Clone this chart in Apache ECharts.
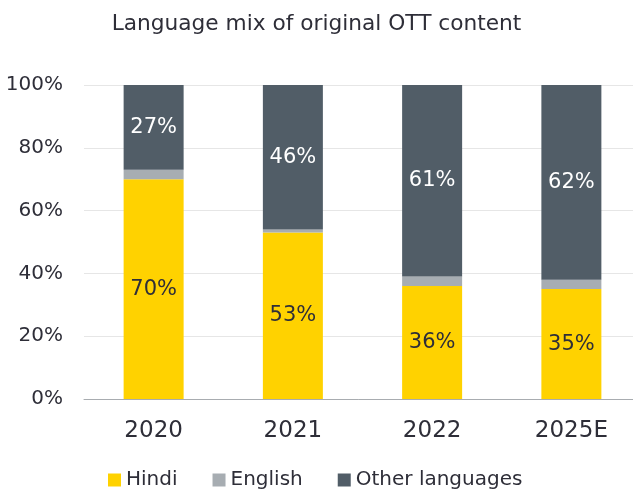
<!DOCTYPE html>
<html>
<head>
<meta charset="utf-8">
<script src="https://cdn.jsdelivr.net/npm/echarts@6/dist/echarts.min.js"></script>
<style>
  html, body { margin: 0; padding: 0; background: #fff; }
  #chart { width: 633px; height: 490px; }
</style>
</head>
<body>
<div id="chart"></div>
<script>
// Share of original OTT content by language (%)
const years = ['2020', '2021', '2022', '2025E'];
const hindi = [70, 53, 36, 35];
const english = [3, 1, 3, 3];
const other = [27, 46, 61, 62];
const yTicks = [0, 20, 40, 60, 80, 100];

const FONT = 'DejaVu Sans';
const INK = '#2e2e38';
const chart = echarts.init(document.getElementById('chart'));

chart.setOption({
  animation: false,
  textStyle: { fontFamily: FONT },
  title: {
    text: 'Language mix of original OTT content',
    left: 'center',
    top: 8,
    textStyle: { fontFamily: FONT, fontSize: 21.7, fontWeight: 'normal', color: INK }
  },
  legend: {
    top: 470,
    left: 108,
    padding: 0,
    itemWidth: 13,
    itemHeight: 13,
    itemGap: 35,
    icon: 'rect',
    textStyle: { fontFamily: FONT, fontSize: 20, color: INK },
    data: ['Hindi', 'English', 'Other languages']
  },
  grid: { left: 84, right: -8, top: 85, bottom: 91, outerBoundsMode: 'none' },
  xAxis: {
    type: 'category',
    data: years,
    axisTick: { show: false },
    axisLine: { lineStyle: { color: '#a8acb0', width: 1 } },
    axisLabel: { fontFamily: FONT, fontSize: 23, color: INK, margin: 21 }
  },
  yAxis: {
    type: 'value',
    min: yTicks[0],
    max: yTicks[yTicks.length - 1],
    interval: 20,
    axisLine: { show: false },
    axisTick: { show: false },
    splitLine: { lineStyle: { color: '#e6e6e6', width: 1 } },
    axisLabel: { fontFamily: FONT, fontSize: 20, color: INK, margin: 21, formatter: '{value}%' }
  },
  series: [
    {
      name: 'Hindi', type: 'bar', stack: 'mix', barWidth: 60,
      itemStyle: { color: '#ffd200' },
      label: { show: true, position: 'inside', formatter: '{c}%', fontFamily: FONT, fontSize: 21, color: INK },
      data: hindi
    },
    {
      name: 'English', type: 'bar', stack: 'mix', barWidth: 60,
      itemStyle: { color: '#a7adb2' },
      data: english
    },
    {
      name: 'Other languages', type: 'bar', stack: 'mix', barWidth: 60,
      itemStyle: { color: '#515d67' },
      label: { show: true, position: 'inside', formatter: '{c}%', fontFamily: FONT, fontSize: 21, color: '#ffffff' },
      data: other
    }
  ]
});
</script>
</body>
</html>
